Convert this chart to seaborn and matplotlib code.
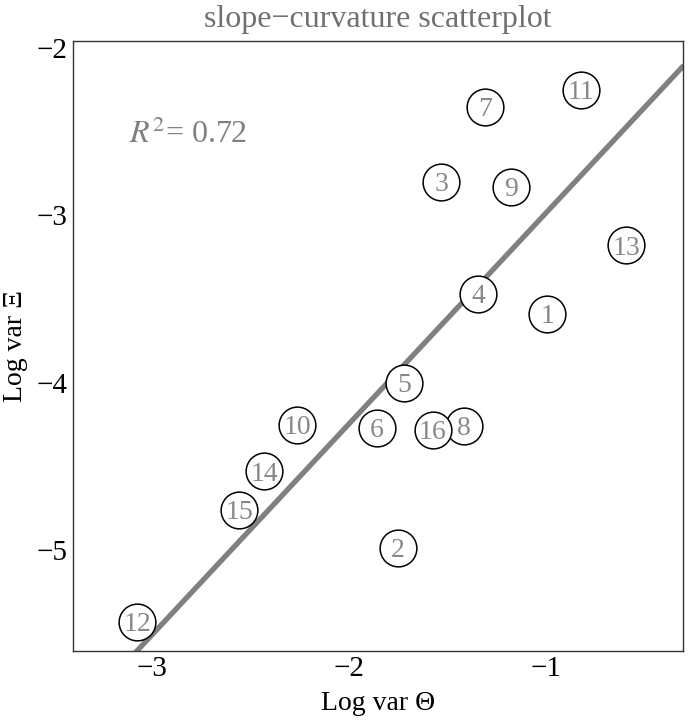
import matplotlib
matplotlib.use("Agg")
import matplotlib.pyplot as plt
import seaborn as sns
import numpy as np
import pandas as pd

# ---- data ----
labels = ["1", "2", "3", "4", "5", "6", "7", "8", "9", "10", "11", "12", "13", "14", "15", "16"]
log_var_theta = [-0.995, -1.751, -1.533, -1.345, -1.721, -1.858, -1.310, -1.416,
                 -1.178, -2.264, -0.822, -3.076, -0.594, -2.431, -2.558, -1.574]
log_var_xi = [-3.59, -4.99, -2.80, -3.47, -4.00, -4.27, -2.35, -4.26,
              -2.83, -4.25, -2.25, -5.43, -3.18, -4.53, -4.76, -4.28]
fit_intercept = -1.724
fit_slope = 1.261
r2_text = "0.72"
x_ticks = [-3, -2, -1]
y_ticks = [-2, -3, -4, -5]

df = pd.DataFrame({"theta": log_var_theta, "xi": log_var_xi, "label": labels})

sns.set_theme(style="white")
plt.rcParams["font.family"] = ["Liberation Serif", "DejaVu Serif"]
plt.rcParams["mathtext.fontset"] = "stix"
plt.rcParams["axes.unicode_minus"] = True

fig = plt.figure(figsize=(6.88, 7.21), dpi=100)
ax = fig.add_axes([73 / 688, 1 - 650.7 / 721, (683 - 73) / 688, (650.7 - 40.7) / 721])

xlim = (-3.401, -0.305)
ylim = (-5.602, -1.956)
ax.set_xlim(*xlim)
ax.set_ylim(*ylim)

# fit line
fit_x = np.array(xlim)
fit_df = pd.DataFrame({"x": fit_x, "y": fit_intercept + fit_slope * fit_x})
sns.lineplot(data=fit_df, x="x", y="y", ax=ax, color="#808080", linewidth=3.8,
             zorder=2, legend=False)

# circles
sns.scatterplot(data=df, x="theta", y="xi", ax=ax, s=700, marker="o",
                facecolor="white", edgecolor="black", linewidth=1.1, zorder=3,
                legend=False)
label_fs = 20
for _, r in df.iterrows():
    ax.annotate(r["label"], (r["theta"], r["xi"]), xytext=(0, -0.33 * label_fs),
                textcoords="offset points", ha="center", va="baseline",
                fontsize=label_fs, color="#888888", zorder=4)

ax.text(-3.115, -2.515, r"$R^2$= " + r2_text, ha="left", va="center",
        fontsize=23, color="#808080")

ax.set_xlim(*xlim)
ax.set_ylim(*ylim)
ax.set_xticks(x_ticks)
ax.set_yticks(y_ticks)
ax.set_xticklabels([f"\u2212{abs(v)}" for v in x_ticks])
ax.set_yticklabels([f"\u2212{abs(v)}" for v in y_ticks])
ax.tick_params(direction="in", length=4, width=0.8, color="#444444",
               labelsize=21, labelcolor="black", pad=4)
for sp in ax.spines.values():
    sp.set_visible(True)
    sp.set_color("#333333")
    sp.set_linewidth(1.0)

ax.set_xlabel("Log var \u0398", fontsize=20, color="black", labelpad=6)
ax.set_ylabel("Log var \u039e", fontsize=20, color="black", labelpad=6)
ax.set_title("slope\u2212curvature scatterplot", fontsize=23, color="#707070", pad=10)

fig.savefig("out.png", dpi=100)
